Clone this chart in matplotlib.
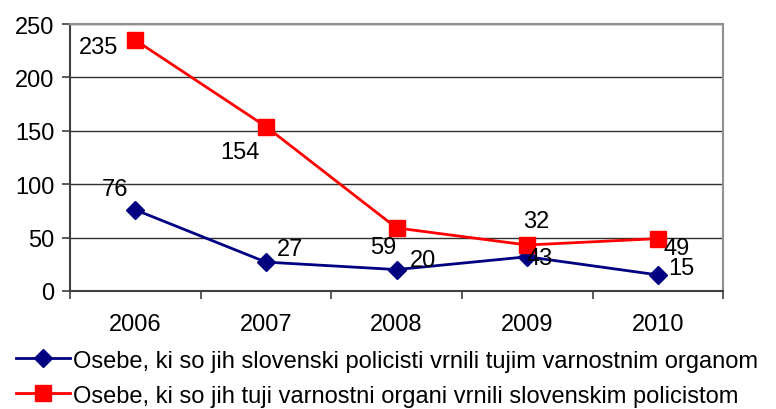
import numpy as np
import matplotlib
matplotlib.use("Agg")
import matplotlib.pyplot as plt
from matplotlib.ticker import FixedLocator

plt.rcParams["font.family"] = ["Liberation Sans", "DejaVu Sans"]

# ------------------------
# Data
# ------------------------
years = ["2006", "2007", "2008", "2009", "2010"]
returned_by_slo = [76, 27, 20, 32, 15]
returned_to_slo = [235, 154, 59, 43, 49]

label_blue = "Osebe, ki so jih slovenski policisti vrnili tujim varnostnim organom"
label_red = "Osebe, ki so jih tuji varnostni organi vrnili slovenskim policistom"

# label offsets in pixels (dx, dy), as placed in the original
blue_offsets = [(-20, 21), (24, 13), (26, 10), (9, 36), (23, 7)]
red_offsets = [(-37, -7), (-26, -25), (-13, -19), (12, -13), (19, -9)]

FS = 17

# ------------------------
# Plot
# ------------------------
fig = plt.figure(figsize=(7.76, 4.10), dpi=100)
ax = fig.add_axes([0.090, 0.288, 0.842, 0.651])

x = np.arange(len(years))
ax.plot(x, returned_by_slo, color="#000080", lw=2, marker="D",
        markersize=9, zorder=3, label=label_blue)
ax.plot(x, returned_to_slo, color="#FF0000", lw=2, marker="s",
        markersize=11, zorder=3, label=label_red)

for xi, v, off in zip(x, returned_by_slo, blue_offsets):
    ax.annotate(str(v), (xi, v), xytext=off, textcoords="offset pixels",
                ha="center", va="center", fontsize=FS, zorder=4)
for xi, v, off in zip(x, returned_to_slo, red_offsets):
    ax.annotate(str(v), (xi, v), xytext=off, textcoords="offset pixels",
                ha="center", va="center", fontsize=FS, zorder=4)

ax.set_xlim(-0.5, len(years) - 0.5)
ax.set_ylim(0, 250)
ax.set_yticks(range(0, 251, 50))
ax.yaxis.grid(True, color="#303030", lw=1)
ax.set_axisbelow(True)

ax.set_xticks(x)
ax.set_xticklabels(years)
ax.xaxis.set_minor_locator(FixedLocator(np.arange(-0.5, len(years), 1.0)))
ax.tick_params(axis="x", which="major", length=0, pad=16, labelsize=FS)
ax.tick_params(axis="x", which="minor", length=6, width=1.2, color="#404040")
ax.tick_params(axis="y", length=6, width=1.2, color="#404040", pad=5,
               labelsize=FS)

for side in ["left", "bottom"]:
    ax.spines[side].set_color("#404040")
    ax.spines[side].set_linewidth(1.5)
for side in ["top", "right"]:
    ax.spines[side].set_color("#909090")
    ax.spines[side].set_linewidth(1.5)

fig.legend(loc="upper left", bbox_to_anchor=(0.008, 0.168), frameon=False,
           fontsize=FS, handlelength=2.3, handletextpad=0.15,
           labelspacing=0.55, borderaxespad=0)

fig.savefig("out.png", dpi=100)
